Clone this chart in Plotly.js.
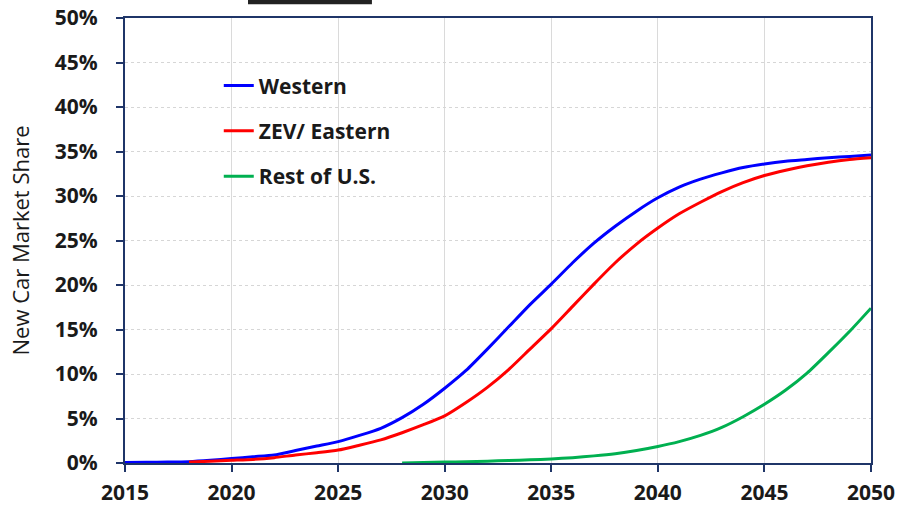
<!DOCTYPE html>
<html>
<head>
<meta charset="utf-8">
<script src="https://cdn.plot.ly/plotly-3.0.1.min.js"></script>
<style>html,body{margin:0;padding:0;background:#fff;}#chart{width:899px;height:505px;}</style>
</head>
<body>
<div id="chart"></div>
<script>
const westernYears = [2015,2016,2017,2018,2019,2020,2021,2022,2023,2024,2025,2026,2027,2028,2029,2030,2031,2032,2033,2034,2035,2036,2037,2038,2039,2040,2041,2042,2043,2044,2045,2046,2047,2048,2049,2050];
const westernShare = [0.05,0.08,0.1,0.15,0.3,0.5,0.7,0.9,1.4,1.9,2.4,3.1,3.9,5.1,6.6,8.4,10.4,12.8,15.3,17.8,20.1,22.5,24.7,26.6,28.3,29.8,31.0,31.9,32.6,33.2,33.6,33.9,34.1,34.3,34.45,34.6];
const easternYears = [2018,2019,2020,2021,2022,2023,2024,2025,2026,2027,2028,2029,2030,2031,2032,2033,2034,2035,2036,2037,2038,2039,2040,2041,2042,2043,2044,2045,2046,2047,2048,2049,2050];
const easternShare = [0.1,0.2,0.3,0.4,0.6,0.9,1.15,1.45,2.0,2.6,3.4,4.3,5.3,6.8,8.5,10.5,12.8,15.1,17.6,20.1,22.5,24.6,26.4,28.0,29.3,30.5,31.5,32.3,32.9,33.4,33.8,34.1,34.3];
const restYears = [2028,2029,2030,2031,2032,2033,2034,2035,2036,2037,2038,2039,2040,2041,2042,2043,2044,2045,2046,2047,2048,2049,2050];
const restShare = [0.0,0.05,0.1,0.15,0.2,0.28,0.36,0.45,0.6,0.8,1.05,1.4,1.85,2.4,3.1,4.0,5.2,6.6,8.2,10.1,12.4,14.8,17.4];
const seriesNames = ['Western','ZEV/ Eastern','Rest of U.S.'];
const xTicks = [2015,2020,2025,2030,2035,2040,2045,2050];
const yTicks = [0,5,10,15,20,25,30,35,40,45,50];

const axisColor = '#1F3568';
const fam = '"Open Sans", Lato, sans-serif';
const tickFont = {family:fam, size:21, color:'#1a1a1a', weight:'bold'};

const traces = [
  {x:westernYears, y:westernShare, name:seriesNames[0], mode:'lines', line:{color:'#0000FF', width:3, shape:'spline', smoothing:0.6}, legendgroup:'a'},
  {x:easternYears, y:easternShare, name:seriesNames[1], mode:'lines', line:{color:'#FF0000', width:3, shape:'spline', smoothing:0.6}, legendgroup:'b'},
  {x:restYears, y:restShare, name:seriesNames[2], mode:'lines', line:{color:'#00B050', width:3, shape:'spline', smoothing:0.6}, legendgroup:'c'}
];

const layout = {
  width:899, height:505,
  margin:{l:125, r:28, t:18, b:42},
  paper_bgcolor:'#fff', plot_bgcolor:'#fff',
  showlegend:true,
  legend:{x:0.1257, y:0.8935, xanchor:'left', yanchor:'top', bgcolor:'rgba(0,0,0,0)',
    font:{family:fam, size:21, color:'#1a1a1a', weight:'bold'},
    tracegroupgap:15, itemwidth:30, traceorder:'grouped'},
  xaxis:{range:[2015,2050], tickvals:xTicks, ticktext:xTicks.map(String),
    showline:true, linecolor:axisColor, linewidth:2, mirror:true,
    ticks:'outside', ticklen:7, tickcolor:axisColor, tickwidth:2,
    showgrid:true, gridcolor:'#DADADA', gridwidth:1, zeroline:false,
    tickfont:tickFont, ticklabelstandoff:3, fixedrange:true},
  yaxis:{range:[0,50], tickvals:yTicks, ticktext:yTicks.map(v=>v+'%'),
    showline:true, linecolor:axisColor, linewidth:2, mirror:true,
    ticks:'outside', ticklen:7, tickcolor:axisColor, tickwidth:2,
    showgrid:true, gridcolor:'#D6D6D6', gridwidth:1, griddash:'dot', zeroline:false,
    tickfont:tickFont, ticklabelstandoff:14,
    title:{text:'New Car Market Share', font:{family:fam, size:22, color:'#1a1a1a', weight:500}, standoff:19},
    fixedrange:true},
  shapes:[{type:'rect', xref:'paper', yref:'paper', x0:0.1649, x1:0.331, y0:1.031, y1:1.045, fillcolor:'#222', line:{width:0}}]
};

Plotly.newPlot('chart', traces, layout, {displayModeBar:false, staticPlot:true});
</script>
</body>
</html>
